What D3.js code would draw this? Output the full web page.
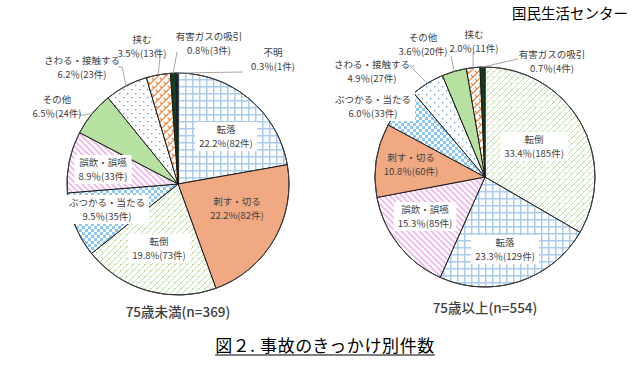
<!DOCTYPE html>
<html><head><meta charset="utf-8">
<script src="https://cdn.jsdelivr.net/npm/d3@7"></script>
<style>
html,body{margin:0;padding:0;background:#fff;}
svg{display:block;font-family:"Noto Sans CJK JP","Noto Sans",sans-serif;}
</style></head>
<body>
<svg id="chart" width="640" height="371"></svg>
<script>
// ---- data ----
const leftTitle = "75歳未満(n=369)";
const leftCategories = ["転落","刺す・切る","転倒","ぶつかる・当たる","誤飲・誤嚥","その他","さわる・接触する","挟む","有害ガスの吸引","不明"];
const leftCounts = [82,82,73,35,33,24,23,13,3,1];
const leftPercents = ["22.2%","22.2%","19.8%","9.5％","8.9％","6.5％","6.2％","3.5％","0.8％","0.3％"];

const rightTitle = "75歳以上(n=554)";
const rightCategories = ["転倒","転落","誤飲・誤嚥","刺す・切る","ぶつかる・当たる","さわる・接触する","その他","挟む","有害ガスの吸引"];
const rightCounts = [185,129,85,60,33,27,20,11,4];
const rightPercents = ["33.4％","23.3％","15.3％","10.8％","6.0％","4.9％","3.6％","2.0％","0.7％"];

const chartTitle = "図２. 事故のきっかけ別件数";
const sourceText = "国民生活センター";

// ---- layout (positions relative to pie centre) ----
const leftLayout = {
  cx:178, cy:184, r:111, titleY:312,
  labels:{
    "転落":{dx:48,dy:-54,box:true},
    "刺す・切る":{dx:59,dy:18},
    "転倒":{dx:-19,dy:58,box:true},
    "ぶつかる・当たる":{dx:-71,dy:19,box:true},
    "誤飲・誤嚥":{dx:-75,dy:-21,box:true},
    "その他":{dx:-121,dy:-84,lead:[[-94,-69],[-99,-69]]},
    "さわる・接触する":{dx:-96,dy:-123,lead:[[-56,-117],[-60,-117]]},
    "挟む":{dx:-36,dy:-144,lead:[[-18,-127]]},
    "有害ガスの吸引":{dx:31,dy:-147,lead:[[-1,-132]]},
    "不明":{dx:95,dy:-131,lead:[[65,-112]]}
  }
};
const rightLayout = {
  cx:485, cy:177, r:110, titleY:308,
  labels:{
    "転倒":{dx:49,dy:-37,box:true},
    "転落":{dx:20,dy:66,box:true},
    "誤飲・誤嚥":{dx:-60,dy:33,box:true},
    "刺す・切る":{dx:-74,dy:-19},
    "ぶつかる・当たる":{dx:-112,dy:-77,box:true},
    "さわる・接触する":{dx:-113,dy:-112,lead:[[-75,-111],[-71,-111]]},
    "その他":{dx:-62,dy:-139,lead:[[-34,-121]]},
    "挟む":{dx:-11,dy:-142,lead:[[-12,-125]]},
    "有害ガスの吸引":{dx:67,dy:-122,lead:[[33,-118]]}
  }
};

const svg = d3.select("#chart");
const defs = svg.append("defs");

// ---- patterns ----
function pat(id,w,h,bg){
  const p = defs.append("pattern").attr("id",id).attr("patternUnits","userSpaceOnUse")
    .attr("width",w).attr("height",h);
  p.append("rect").attr("width",w).attr("height",h).attr("fill",bg||"#fff");
  return p;
}
// grid (転落)
let p = pat("pGrid",7,7);
p.append("path").attr("d","M0,0.75H7M0.75,0V7").attr("stroke","#a9cbee").attr("stroke-width",1.5).attr("fill","none");
// green diagonal brick (転倒)
p = pat("pGreen",6,6);
p.append("path").attr("d","M0,6L6,0M-1,1L1,-1M5,7L7,5M1.5,1.5L3,3").attr("stroke","#bfe0a6").attr("stroke-width",1).attr("fill","none");
// checker (ぶつかる)
p = pat("pCheck",6,6);
p.append("rect").attr("x",0).attr("y",0).attr("width",3).attr("height",3).attr("fill","#8cc8f0");
p.append("rect").attr("x",3).attr("y",3).attr("width",3).attr("height",3).attr("fill","#8cc8f0");
// pink stripes (誤飲)
p = pat("pPink",6,6);
p.append("path").attr("d","M0,0L6,6M-3,3L3,9M3,-3L9,3").attr("stroke","#f0b8e8").attr("stroke-width",1.8).attr("fill","none");
// dots (さわる)
p = pat("pDots",8,8);
p.append("rect").attr("x",1).attr("y",1).attr("width",1.3).attr("height",1.3).attr("fill","#5b9bd5");
p.append("rect").attr("x",5).attr("y",5).attr("width",1.3).attr("height",1.3).attr("fill","#5b9bd5");
// orange brick (挟む)
p = pat("pOrange",8,8);
p.append("path").attr("d","M0,8L8,0M-2,2L2,-2M6,10L10,6M2,2L4,4M6,6L8,8").attr("stroke","#ed7d31").attr("stroke-width",1.2).attr("fill","none");

const fills = {
  "転落":"url(#pGrid)",
  "刺す・切る":"#f1a983",
  "転倒":"url(#pGreen)",
  "ぶつかる・当たる":"url(#pCheck)",
  "誤飲・誤嚥":"url(#pPink)",
  "その他":"#b7e1a1",
  "さわる・接触する":"url(#pDots)",
  "挟む":"url(#pOrange)",
  "有害ガスの吸引":"#123f1f",
  "不明":"#1f3864"
};

function drawPie(categories, counts, percents, title, L){
  const data = categories.map((c,i)=>({cat:c,count:counts[i],pct:percents[i]}));
  const pie = d3.pie().sort(null).value(d=>d.count);
  const arcs = pie(data);
  const arc = d3.arc().innerRadius(0).outerRadius(L.r);
  const g = svg.append("g").attr("transform",`translate(${L.cx},${L.cy})`);

  g.selectAll("path.slice").data(arcs).join("path").attr("class","slice")
    .attr("d",arc).attr("fill",d=>fills[d.data.cat])
    .attr("stroke","#1a1a1a").attr("stroke-width",1).attr("stroke-linejoin","round");
  g.append("circle").attr("r",L.r).attr("fill","none").attr("stroke","#404040").attr("stroke-width",1);

  // leader lines
  arcs.forEach(a=>{
    const lay = L.labels[a.data.cat];
    if(lay && lay.lead){
      const mid = (a.startAngle+a.endAngle)/2;
      const s = [Math.sin(mid)*L.r, -Math.cos(mid)*L.r];
      const pts = [s].concat(lay.lead);
      g.append("path").attr("d",d3.line()(pts)).attr("fill","none")
        .attr("stroke","#a6a6a6").attr("stroke-width",1);
    }
  });

  // labels
  arcs.forEach(a=>{
    const lay = L.labels[a.data.cat];
    if(!lay) return;
    const lg = g.append("g").attr("transform",`translate(${lay.dx},${lay.dy})`);
    const t1 = lg.append("text").attr("text-anchor","middle").attr("y",-0.5).attr("dy","0.35em")
      .attr("font-size",9.5).attr("fill","#404040").text(a.data.cat);
    const t2 = lg.append("text").attr("text-anchor","middle").attr("y",13.5).attr("dy","0.35em")
      .attr("font-size",9.5).attr("fill","#404040").text(`${a.data.pct}(${a.data.count}件)`);
    if(lay.box){
      const w = Math.max(t1.node().getComputedTextLength(), t2.node().getComputedTextLength()) + 8;
      lg.insert("rect","text").attr("x",-w/2).attr("y",-8).attr("width",w).attr("height",29).attr("fill","#fff");
    }
  });

  svg.append("text").attr("x",L.cx).attr("y",L.titleY).attr("text-anchor","middle")
    .attr("font-size",13.5).attr("font-weight",500).attr("fill","#404040").attr("dy","0.35em").text(title);
}

drawPie(leftCategories,leftCounts,leftPercents,leftTitle,leftLayout);
drawPie(rightCategories,rightCounts,rightPercents,rightTitle,rightLayout);

// chart title
const tt = svg.append("text").attr("x",325).attr("y",346).attr("text-anchor","middle").attr("dy","0.35em")
  .attr("font-size",17).attr("letter-spacing",0.6).attr("fill","#000").text(chartTitle);
const tw = tt.node().getComputedTextLength();
svg.append("line").attr("x1",325-tw/2).attr("x2",325+tw/2).attr("y1",355).attr("y2",355)
  .attr("stroke","#000").attr("stroke-width",1.2);

svg.append("text").attr("x",628).attr("y",14).attr("text-anchor","end").attr("dy","0.35em")
  .attr("font-size",14.5).attr("fill","#000").text(sourceText);
</script>
</body></html>
